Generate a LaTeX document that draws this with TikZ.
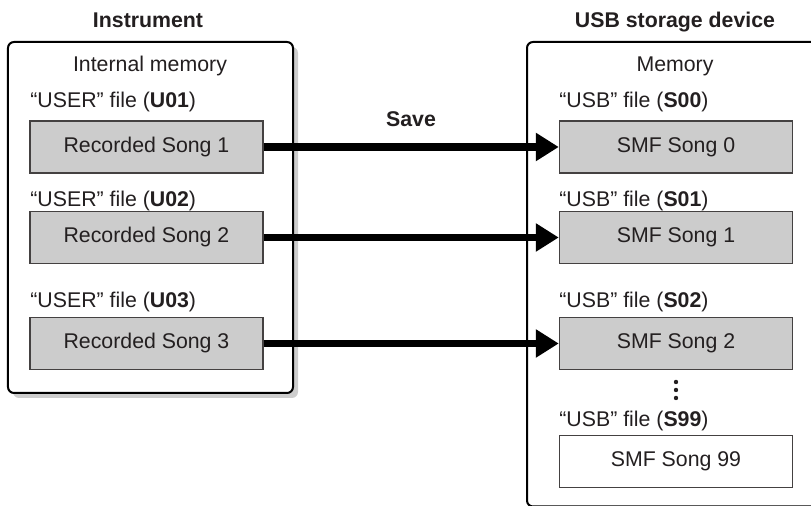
\documentclass[tikz,border=0pt]{standalone}
\usepackage{fontspec}
\setmainfont{Liberation Sans}
\usetikzlibrary{arrows.meta}
\definecolor{songgray}{RGB}{204,204,204}
\definecolor{shadowgray}{RGB}{205,205,205}
\definecolor{ink}{RGB}{35,31,32}

\begin{document}
\begin{tikzpicture}[x=0.5pt, y=-0.5pt, color=ink,
  font=\fontsize{10.65}{12.8}\selectfont,
  outer/.style={draw=black, line width=1pt, rounded corners=3pt},
  song/.style={draw=ink!85, fill=songgray, line width=0.75pt, minimum width=116.5pt,
    minimum height=26pt, inner sep=0pt},
  lbl/.style={anchor=base west, inner sep=0pt},
  ttl/.style={anchor=base, inner sep=0pt, font=\fontsize{10.65}{12.8}\selectfont\bfseries},
  a/.style={-{Triangle[length=11.5pt, width=13.5pt]}, line width=3.8pt, black}]

  \clip (0,0) rectangle (811,506);

  % instrument side, with its shadow
  \fill[shadowgray, rounded corners=3pt] (13,47) rectangle (298,398);
  \draw[outer, fill=white] (8,42) rectangle (293,393);
  \node[ttl] (instr) at (148,28) {Instrument};
  \node[anchor=base, inner sep=0pt] (intmem) at (150,72) {Internal memory};

  \node[lbl] (u1) at (30,108) {“USER” file (\textbf{U01})};
  \node[song] (rec1) at (146.5,147) {Recorded Song 1};
  \node[lbl] (u2) at (30,207) {“USER” file (\textbf{U02})};
  \node[song] (rec2) at (146.5,237.5) {Recorded Song 2};
  \node[lbl] (u3) at (30,308) {“USER” file (\textbf{U03})};
  \node[song] (rec3) at (146.5,343.5) {Recorded Song 3};

  % USB side (runs off the right and bottom edge)
  \draw[outer] (527,42) rectangle (850,506.5);
  \node[ttl] (usbdev) at (675,28) {USB storage device};
  \node[anchor=base, inner sep=0pt] (mem) at (675,72) {Memory};

  \node[lbl] (s0) at (559,108) {“USB” file (\textbf{S00})};
  \node[song] (smf0) at (676,147) {SMF Song 0};
  \node[lbl] (s1) at (559,207) {“USB” file (\textbf{S01})};
  \node[song] (smf1) at (676,237.5) {SMF Song 1};
  \node[lbl] (s2) at (559,308) {“USB” file (\textbf{S02})};
  \node[song] (smf2) at (676,343.5) {SMF Song 2};

  \foreach \y in {382,390,398}
    \fill (676,\y) circle (1.1pt);

  \node[lbl] (s99) at (559,427) {“USB” file (\textbf{S99})};
  \node[song, fill=white] (smf99) at (676,461.5) {SMF Song 99};

  % save arrows
  \node[ttl] (save) at (411,127) {Save};
  \draw[a] (rec1.east) -- (smf0.west);
  \draw[a] (rec2.east) -- (smf1.west);
  \draw[a] (rec3.east) -- (smf2.west);

\end{tikzpicture}
\end{document}
